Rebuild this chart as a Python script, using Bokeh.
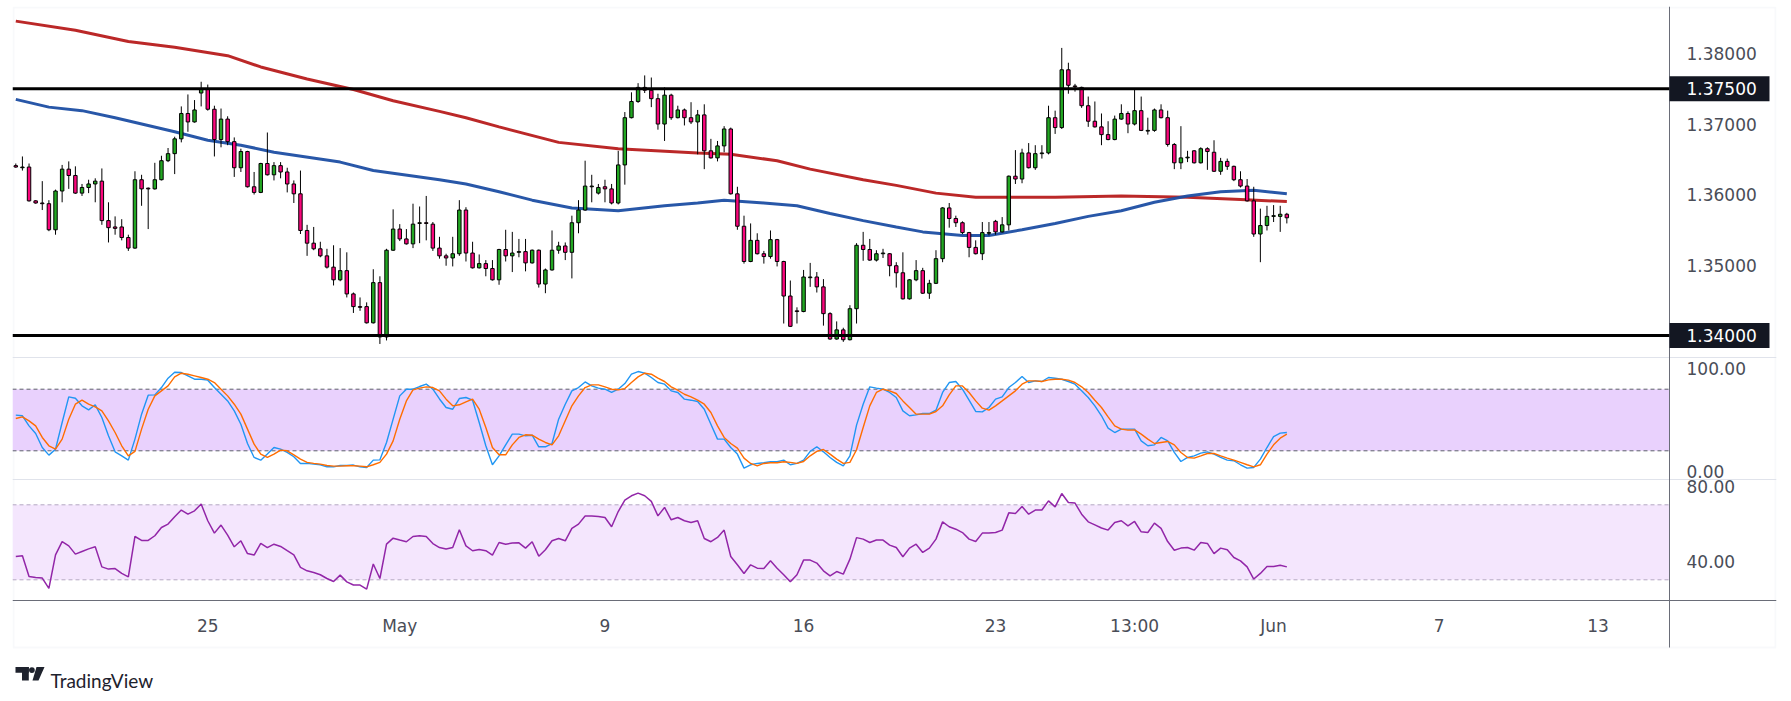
from bokeh.plotting import figure
from bokeh.models import (Range1d, LinearAxis, FixedTicker, NumeralTickFormatter,
                          Span, BoxAnnotation, ColumnDataSource)
from bokeh.embed import file_html
from bokeh.resources import INLINE
from bokeh.core.properties import value

# ---------------- data (4H candles) ----------------
opens = [
    1.3641, 1.3638, 1.3639, 1.3591, 1.3588, 1.3587, 1.3550, 1.3605, 1.3636, 1.3627,
    1.3602, 1.3610, 1.3615, 1.3619, 1.3563, 1.3554, 1.3554, 1.3539, 1.3524, 1.3621,
    1.3609, 1.3608, 1.3621, 1.3648, 1.3658, 1.3679, 1.3715, 1.3703, 1.3744, 1.3749,
    1.3721, 1.3678, 1.3707, 1.3675, 1.3638, 1.3661, 1.3611, 1.3603, 1.3644, 1.3628,
    1.3641, 1.3632, 1.3615, 1.3601, 1.3549, 1.3531, 1.3523, 1.3513, 1.3497, 1.3479,
    1.3492, 1.3459, 1.3441, 1.3441, 1.3418, 1.3475, 1.3398, 1.3521, 1.3551, 1.3537,
    1.3530, 1.3559, 1.3560, 1.3558, 1.3524, 1.3513, 1.3510, 1.3516, 1.3578, 1.3517,
    1.3496, 1.3502, 1.3495, 1.3479, 1.3522, 1.3513, 1.3518, 1.3519, 1.3503, 1.3521,
    1.3473, 1.3493, 1.3521, 1.3527, 1.3518, 1.3560, 1.3578, 1.3611, 1.3602, 1.3611,
    1.3608, 1.3588, 1.3642, 1.3709, 1.3732, 1.3752, 1.3748, 1.3736, 1.3700, 1.3741,
    1.3709, 1.3720, 1.3709, 1.3703, 1.3713, 1.3662, 1.3652, 1.3669, 1.3693, 1.3601,
    1.3555, 1.3505, 1.3535, 1.3516, 1.3512, 1.3536, 1.3505, 1.3456, 1.3435, 1.3434,
    1.3482, 1.3483, 1.3469, 1.3431, 1.3395, 1.3408, 1.3394, 1.3438, 1.3528, 1.3522,
    1.3507, 1.3516, 1.3516, 1.3499, 1.3489, 1.3452, 1.3479, 1.3492, 1.3460, 1.3474,
    1.3509, 1.3581, 1.3566, 1.3560, 1.3546, 1.3525, 1.3516, 1.3545, 1.3562, 1.3547,
    1.3557, 1.3626, 1.3622, 1.3659, 1.3638, 1.3658, 1.3659, 1.3709, 1.3695, 1.3777,
    1.3754, 1.3752, 1.3726, 1.3704, 1.3696, 1.3685, 1.3678, 1.3707, 1.3715, 1.3700,
    1.3719, 1.3690, 1.3691, 1.3720, 1.3709, 1.3671, 1.3645, 1.3652, 1.3662, 1.3645,
    1.3665, 1.3660, 1.3633, 1.3647, 1.3640, 1.3621, 1.3612, 1.3591, 1.3544, 1.3556,
    1.3569, 1.3569, 1.3572,
]
highs = [
    1.3644, 1.3654, 1.3644, 1.3592, 1.3619, 1.3592, 1.3607, 1.3642, 1.3647, 1.3640,
    1.3615, 1.3621, 1.3623, 1.3637, 1.3589, 1.3569, 1.3565, 1.3543, 1.3633, 1.3628,
    1.3610, 1.3645, 1.3655, 1.3666, 1.3682, 1.3725, 1.3742, 1.3734, 1.3760, 1.3756,
    1.3726, 1.3722, 1.3711, 1.3681, 1.3665, 1.3662, 1.3632, 1.3645, 1.3688, 1.3646,
    1.3646, 1.3638, 1.3620, 1.3634, 1.3557, 1.3554, 1.3533, 1.3523, 1.3528, 1.3524,
    1.3518, 1.3461, 1.3454, 1.3447, 1.3494, 1.3484, 1.3523, 1.3579, 1.3558, 1.3551,
    1.3587, 1.3583, 1.3598, 1.3561, 1.3540, 1.3516, 1.3540, 1.3592, 1.3582, 1.3533,
    1.3515, 1.3507, 1.3507, 1.3523, 1.3550, 1.3547, 1.3537, 1.3537, 1.3522, 1.3522,
    1.3495, 1.3549, 1.3533, 1.3532, 1.3570, 1.3592, 1.3648, 1.3628, 1.3615, 1.3621,
    1.3615, 1.3662, 1.3717, 1.3745, 1.3758, 1.3769, 1.3766, 1.3743, 1.3752, 1.3743,
    1.3726, 1.3722, 1.3731, 1.3720, 1.3728, 1.3679, 1.3676, 1.3697, 1.3695, 1.3611,
    1.3570, 1.3559, 1.3545, 1.3520, 1.3549, 1.3537, 1.3506, 1.3478, 1.3440, 1.3493,
    1.3503, 1.3490, 1.3480, 1.3433, 1.3420, 1.3411, 1.3443, 1.3531, 1.3547, 1.3537,
    1.3521, 1.3523, 1.3517, 1.3504, 1.3518, 1.3480, 1.3507, 1.3496, 1.3479, 1.3521,
    1.3582, 1.3588, 1.3570, 1.3562, 1.3547, 1.3535, 1.3561, 1.3561, 1.3564, 1.3568,
    1.3627, 1.3663, 1.3665, 1.3673, 1.3670, 1.3670, 1.3726, 1.3719, 1.3808, 1.3787,
    1.3757, 1.3753, 1.3739, 1.3732, 1.3715, 1.3704, 1.3712, 1.3728, 1.3718, 1.3749,
    1.3739, 1.3709, 1.3722, 1.3728, 1.3719, 1.3673, 1.3697, 1.3662, 1.3663, 1.3667,
    1.3667, 1.3677, 1.3652, 1.3651, 1.3641, 1.3633, 1.3622, 1.3611, 1.3580, 1.3584,
    1.3585, 1.3584, 1.3574,
]
lows = [
    1.3638, 1.3634, 1.3590, 1.3587, 1.3578, 1.3548, 1.3543, 1.3589, 1.3608, 1.3601,
    1.3598, 1.3602, 1.3589, 1.3557, 1.3532, 1.3543, 1.3535, 1.3520, 1.3523, 1.3584,
    1.3551, 1.3607, 1.3620, 1.3646, 1.3629, 1.3674, 1.3689, 1.3702, 1.3725, 1.3719,
    1.3654, 1.3667, 1.3670, 1.3625, 1.3632, 1.3610, 1.3600, 1.3602, 1.3627, 1.3620,
    1.3623, 1.3603, 1.3588, 1.3544, 1.3513, 1.3521, 1.3511, 1.3495, 1.3471, 1.3477,
    1.3454, 1.3432, 1.3435, 1.3417, 1.3417, 1.3388, 1.3393, 1.3520, 1.3534, 1.3529,
    1.3524, 1.3531, 1.3535, 1.3520, 1.3509, 1.3499, 1.3498, 1.3513, 1.3505, 1.3495,
    1.3495, 1.3484, 1.3478, 1.3472, 1.3505, 1.3490, 1.3511, 1.3491, 1.3502, 1.3468,
    1.3460, 1.3492, 1.3516, 1.3507, 1.3481, 1.3545, 1.3577, 1.3589, 1.3600, 1.3589,
    1.3586, 1.3586, 1.3614, 1.3708, 1.3730, 1.3744, 1.3724, 1.3692, 1.3676, 1.3706,
    1.3708, 1.3698, 1.3700, 1.3657, 1.3636, 1.3651, 1.3647, 1.3660, 1.3600, 1.3550,
    1.3502, 1.3504, 1.3515, 1.3502, 1.3509, 1.3498, 1.3417, 1.3412, 1.3417, 1.3433,
    1.3469, 1.3461, 1.3414, 1.3394, 1.3394, 1.3391, 1.3393, 1.3417, 1.3506, 1.3506,
    1.3505, 1.3510, 1.3484, 1.3468, 1.3451, 1.3451, 1.3477, 1.3459, 1.3452, 1.3473,
    1.3504, 1.3553, 1.3554, 1.3544, 1.3511, 1.3515, 1.3507, 1.3542, 1.3543, 1.3546,
    1.3549, 1.3615, 1.3616, 1.3637, 1.3635, 1.3651, 1.3657, 1.3686, 1.3693, 1.3743,
    1.3746, 1.3723, 1.3696, 1.3695, 1.3670, 1.3677, 1.3677, 1.3706, 1.3687, 1.3698,
    1.3690, 1.3685, 1.3689, 1.3708, 1.3668, 1.3636, 1.3636, 1.3646, 1.3644, 1.3644,
    1.3635, 1.3632, 1.3628, 1.3635, 1.3619, 1.3610, 1.3590, 1.3540, 1.3504, 1.3549,
    1.3561, 1.3547, 1.3559,
]
closes = [
    1.3639, 1.3639, 1.3591, 1.3588, 1.3587, 1.3550, 1.3605, 1.3636, 1.3627, 1.3602,
    1.3610, 1.3615, 1.3619, 1.3563, 1.3553, 1.3552, 1.3539, 1.3524, 1.3621, 1.3608,
    1.3608, 1.3621, 1.3648, 1.3658, 1.3679, 1.3715, 1.3703, 1.3720, 1.3749, 1.3721,
    1.3678, 1.3707, 1.3675, 1.3638, 1.3661, 1.3611, 1.3603, 1.3644, 1.3628, 1.3641,
    1.3632, 1.3615, 1.3601, 1.3549, 1.3531, 1.3523, 1.3513, 1.3497, 1.3479, 1.3492,
    1.3459, 1.3441, 1.3440, 1.3418, 1.3475, 1.3398, 1.3521, 1.3551, 1.3537, 1.3530,
    1.3558, 1.3560, 1.3559, 1.3524, 1.3513, 1.3510, 1.3516, 1.3578, 1.3517, 1.3496,
    1.3502, 1.3495, 1.3479, 1.3522, 1.3513, 1.3517, 1.3519, 1.3503, 1.3521, 1.3473,
    1.3493, 1.3521, 1.3527, 1.3518, 1.3560, 1.3578, 1.3612, 1.3612, 1.3610, 1.3608,
    1.3588, 1.3642, 1.3709, 1.3732, 1.3752, 1.3748, 1.3736, 1.3700, 1.3741, 1.3709,
    1.3720, 1.3709, 1.3703, 1.3713, 1.3662, 1.3652, 1.3669, 1.3693, 1.3601, 1.3555,
    1.3505, 1.3535, 1.3516, 1.3512, 1.3536, 1.3505, 1.3456, 1.3413, 1.3434, 1.3483,
    1.3483, 1.3469, 1.3431, 1.3395, 1.3408, 1.3394, 1.3438, 1.3528, 1.3522, 1.3507,
    1.3516, 1.3517, 1.3499, 1.3489, 1.3452, 1.3479, 1.3492, 1.3460, 1.3474, 1.3509,
    1.3581, 1.3566, 1.3560, 1.3546, 1.3525, 1.3516, 1.3546, 1.3546, 1.3547, 1.3557,
    1.3626, 1.3622, 1.3659, 1.3638, 1.3658, 1.3659, 1.3709, 1.3695, 1.3777, 1.3755,
    1.3753, 1.3726, 1.3704, 1.3696, 1.3685, 1.3678, 1.3707, 1.3715, 1.3700, 1.3719,
    1.3691, 1.3691, 1.3720, 1.3709, 1.3671, 1.3645, 1.3652, 1.3653, 1.3645, 1.3665,
    1.3661, 1.3633, 1.3647, 1.3640, 1.3621, 1.3612, 1.3591, 1.3544, 1.3556, 1.3569,
    1.3570, 1.3572, 1.3567,
]

# moving averages (candle index, value)
ma_red_idx = [0, 9, 17, 24, 32, 37, 44, 51, 57, 64, 68, 73, 82, 91, 103, 108,
              115, 120, 128, 133, 139, 145, 157, 167, 177, 185, 192]
ma_red = [1.3846, 1.3833, 1.3817, 1.3809, 1.3797, 1.3781, 1.3764, 1.3749, 1.3733,
          1.3718, 1.3709, 1.3696, 1.3674, 1.3665, 1.3659, 1.3657, 1.3648, 1.3636,
          1.3621, 1.3613, 1.3602, 1.3596, 1.3596, 1.3598, 1.3596, 1.3593, 1.3590]
ma_blue_idx = [0, 5, 10, 15, 24, 29, 34, 39, 49, 54, 64, 68, 73, 78, 84, 91, 98,
               103, 107, 113, 118, 123, 128, 133, 137, 143, 147, 152, 157, 162,
               167, 172, 177, 182, 187, 192]
ma_blue = [1.3735, 1.3724, 1.3719, 1.3709, 1.3689, 1.3677, 1.3670, 1.3660, 1.3646,
           1.3634, 1.3621, 1.3615, 1.3604, 1.3592, 1.3581, 1.3577, 1.3584, 1.3588,
           1.3592, 1.3588, 1.3584, 1.3573, 1.3563, 1.3554, 1.3547, 1.3542, 1.3542,
           1.3550, 1.3559, 1.3569, 1.3577, 1.3589, 1.3598, 1.3604, 1.3606, 1.3601]

stoch_k = [
    54.7, 54.1, 44.3, 36.9, 23.2, 15.8, 21.6, 47.6, 72.5, 71.2,
    63.8, 59.9, 64.8, 52.4, 34.6, 19.0, 15.1, 10.9, 31.4, 55.7,
    74.2, 74.5, 81.6, 90.7, 96.5, 96.2, 93.0, 89.7, 89.7, 88.8,
    81.6, 75.1, 68.6, 58.9, 45.9, 27.1, 13.5, 10.9, 16.8, 23.2,
    21.6, 18.4, 14.2, 7.7, 7.7, 7.0, 6.4, 4.4, 4.4, 5.7,
    5.7, 6.1, 4.4, 3.8, 10.9, 11.2, 28.1, 50.8, 73.5, 80.0,
    80.0, 82.6, 84.9, 80.0, 70.5, 62.2, 60.5, 70.9, 71.9, 69.3,
    47.6, 24.9, 6.4, 15.1, 25.8, 36.2, 36.2, 34.6, 35.2, 23.9,
    23.9, 27.1, 50.8, 65.4, 78.4, 81.6, 87.1, 83.2, 81.0, 80.0,
    76.8, 80.0, 85.5, 94.6, 97.2, 95.6, 91.4, 86.5, 84.9, 78.4,
    76.8, 70.3, 69.3, 68.0, 60.5, 45.9, 31.4, 31.4, 23.2, 16.8,
    3.1, 6.4, 7.7, 8.3, 9.3, 9.3, 10.9, 6.4, 7.7, 10.9,
    19.4, 23.9, 19.0, 13.5, 8.7, 5.4, 15.1, 45.0, 65.4, 82.3,
    81.0, 80.0, 76.8, 71.9, 58.9, 54.1, 55.0, 56.3, 56.3, 59.6,
    76.8, 86.5, 87.5, 80.0, 69.3, 58.3, 57.9, 62.2, 70.3, 72.5,
    81.6, 86.5, 92.3, 86.5, 88.1, 87.5, 91.4, 90.7, 89.7, 87.5,
    84.9, 78.4, 71.9, 63.8, 54.1, 42.1, 37.8, 41.1, 41.1, 41.1,
    29.7, 24.9, 25.8, 33.0, 29.7, 18.4, 9.6, 13.5, 15.1, 17.7,
    19.0, 16.8, 13.5, 10.9, 10.3, 6.4, 3.1, 3.8, 11.9, 23.2,
    33.9, 37.2, 37.8,
]
stoch_d = [
    51.5, 53.1, 49.2, 44.3, 33.0, 24.9, 21.6, 31.4, 50.8, 65.4,
    69.3, 65.4, 62.8, 58.9, 49.2, 37.8, 24.9, 15.1, 19.4, 41.1,
    60.5, 73.5, 78.4, 83.2, 92.0, 95.6, 94.6, 93.0, 91.4, 89.7,
    86.5, 80.0, 73.5, 65.4, 55.7, 41.1, 26.5, 16.8, 13.5, 16.8,
    20.7, 20.0, 16.1, 11.9, 8.7, 7.7, 7.0, 5.7, 5.1, 5.1,
    5.4, 5.4, 5.1, 4.4, 6.4, 8.7, 16.8, 29.7, 50.8, 68.6,
    79.4, 81.0, 82.3, 81.6, 78.4, 70.3, 63.8, 64.8, 67.7, 70.3,
    60.5, 42.7, 23.2, 16.1, 16.1, 25.8, 33.0, 35.6, 35.2, 31.4,
    28.1, 25.8, 34.6, 49.2, 63.8, 73.5, 81.6, 84.2, 84.2, 82.3,
    80.0, 79.4, 80.6, 86.5, 92.0, 95.6, 94.6, 90.7, 87.5, 82.3,
    79.0, 75.1, 72.5, 69.3, 65.4, 57.3, 44.3, 33.0, 27.1, 22.6,
    12.9, 7.7, 5.4, 7.7, 8.3, 8.3, 9.3, 8.7, 7.7, 9.6,
    15.1, 19.4, 21.3, 16.8, 11.9, 7.7, 8.7, 21.0, 42.7, 63.8,
    76.8, 80.0, 78.4, 75.8, 68.6, 62.2, 55.7, 55.7, 55.7, 58.3,
    63.8, 74.5, 83.2, 83.2, 76.8, 68.6, 61.5, 59.6, 63.8, 68.6,
    73.5, 78.4, 84.9, 88.1, 88.1, 87.5, 89.1, 89.7, 89.7, 88.8,
    86.5, 82.3, 76.8, 69.3, 62.2, 53.1, 44.3, 41.1, 40.1, 40.4,
    36.2, 31.4, 27.1, 28.1, 29.1, 25.8, 18.4, 13.5, 12.9, 15.1,
    17.4, 17.4, 15.1, 12.9, 10.9, 8.7, 6.4, 4.4, 6.4, 16.8,
    25.8, 32.3, 36.2,
]
rsi = [
    42.4, 42.8, 31.8, 31.2, 30.9, 25.4, 43.3, 50.4, 48.1, 43.7,
    45.1, 46.5, 47.6, 36.9, 35.7, 36.0, 33.4, 31.6, 53.1, 51.0,
    51.0, 53.5, 57.9, 59.7, 63.6, 67.2, 65.0, 66.8, 70.4, 61.5,
    54.9, 59.2, 53.8, 47.6, 50.8, 44.0, 43.2, 49.4, 47.2, 49.0,
    47.8, 45.5, 43.3, 36.6, 34.8, 33.9, 32.7, 30.7, 29.1, 32.5,
    28.9, 27.2, 27.2, 25.0, 38.4, 30.7, 49.0, 52.2, 51.2, 50.3,
    53.1, 53.5, 53.1, 49.3, 47.2, 46.4, 47.2, 56.7, 48.1, 45.5,
    46.2, 45.5, 43.2, 49.9, 49.0, 49.6, 49.7, 46.9, 50.3, 42.6,
    46.0, 50.8, 52.0, 50.8, 57.4, 59.7, 64.0, 64.0, 63.8, 63.2,
    58.3, 66.4, 72.5, 74.8, 76.2, 74.8, 71.8, 64.1, 68.6, 62.0,
    63.2, 61.5, 60.6, 61.5, 52.0, 50.3, 52.6, 56.5, 42.4, 38.0,
    33.4, 38.0, 36.2, 36.0, 40.1, 36.2, 32.7, 28.9, 32.7, 40.5,
    40.5, 38.9, 34.8, 32.1, 34.4, 33.0, 41.0, 52.5, 51.7, 49.9,
    51.2, 51.2, 48.5, 47.2, 42.3, 46.9, 49.0, 44.6, 46.9, 51.7,
    60.9, 58.3, 57.0, 55.2, 51.7, 50.4, 54.9, 54.9, 55.2, 56.5,
    65.7, 65.4, 69.1, 65.0, 67.2, 67.2, 72.1, 68.9, 76.0, 71.2,
    70.9, 65.0, 60.9, 59.3, 57.6, 56.5, 60.6, 61.5, 58.8, 61.1,
    55.6, 55.2, 60.2, 57.4, 50.4, 45.8, 46.9, 47.2, 45.8, 49.9,
    49.4, 44.0, 46.9, 46.0, 41.9, 40.1, 36.9, 30.4, 33.4, 37.1,
    37.1, 37.8, 36.9,
]

levels = [1.375, 1.34]
level_labels = ["1.37500", "1.34000"]
price_ticks = [1.35, 1.36, 1.37, 1.38]
stoch_ticks = [0, 100]
stoch_band = [20, 80]
rsi_ticks = [40, 80]
rsi_band = [30, 70]
date_tick_pos = [29, 58, 89, 119, 148, 169, 190, 215, 239]
date_tick_labels = ["25", "May", "9", "16", "23", "13:00", "Jun", "7", "13"]
brand_text = "TradingView"

# ---------------- layout geometry (pixels of the page) ----------------
F_LEFT, F_RIGHT, F_TOP, F_BOT = 12, 1776, 6, 697
CHART_BOTTOM, AXIS_Y = 647, 600
PX_SEP, PX_LABEL, PX_BOX_R = 1669, 1686, 1769
PANE_BREAKS = [357, 479]
W, H = 1786, 699


def lin(v1, p1, v2, p2):
    k = (v2 - v1) / (p2 - p1)
    return lambda px: v1 + (px - p1) * k


x_at = lin(0, 15.3, 1, 21.92)              # candle index at a pixel column
price_at = lin(1.375, 88.3, 1.34, 335.0)   # price pane scale
stoch_at = lin(80, 388.7, 20, 450.3)       # stochastic pane scale
rsi_at = lin(70, 504.3, 30, 579.3)         # RSI pane scale

SEP_X = x_at(PX_SEP)
LABEL_X = x_at(PX_LABEL)
BOX_X0, BOX_X1 = x_at(PX_SEP), x_at(PX_BOX_R)

# ---------------- styling ----------------
UP = "#22a722"
DOWN = "#fa067c"
AXIS_TXT = "#4a4d57"
AXIS_LINE = "#6a6d78"
SEP = "#e0e3eb"
BORDER = "#e9eaf1"
FONT = "DejaVu Sans"
INK = "#1e222d"

xr = Range1d(x_at(F_LEFT), x_at(F_RIGHT))
p = figure(width=W, height=H, x_range=xr,
           y_range=Range1d(price_at(F_BOT), price_at(F_TOP)),
           output_backend="svg", toolbar_location=None, tools="",
           x_axis_location=None, y_axis_location=None,
           min_border_left=F_LEFT, min_border_right=W - F_RIGHT,
           min_border_top=F_TOP, min_border_bottom=H - F_BOT,
           background_fill_color="white", border_fill_color="white",
           outline_line_color=None)
p.extra_y_ranges = {
    "stoch": Range1d(stoch_at(F_BOT), stoch_at(F_TOP)),
    "rsi": Range1d(rsi_at(F_BOT), rsi_at(F_TOP)),
}
p.xgrid.visible = False
p.ygrid.visible = False


def style_axis(ax, line=True):
    ax.axis_line_color = AXIS_LINE if line else None
    ax.major_tick_line_color = None
    ax.minor_tick_line_color = None
    ax.major_tick_out = 0
    ax.major_tick_in = 0
    ax.major_label_text_font_size = "17px"
    ax.major_label_text_color = AXIS_TXT
    ax.major_label_text_font = FONT


# chart border, pane separators and price-scale separator
p.add_layout(BoxAnnotation(left=x_at(F_LEFT + 1), right=x_at(F_RIGHT - 1),
                           top=price_at(F_TOP + 1), bottom=price_at(CHART_BOTTOM),
                           fill_alpha=0, line_color=BORDER, line_width=2,
                           level="underlay"))
for br in PANE_BREAKS:
    p.add_layout(Span(location=price_at(br), dimension="width",
                      line_color=SEP, line_width=1, level="underlay"))
p.segment(x0=[SEP_X], y0=[price_at(F_TOP)], x1=[SEP_X],
          y1=[price_at(CHART_BOTTOM)], line_color=AXIS_LINE, line_width=1)

# right-hand value scales (drawn at the separator column)
for rng_name, ticks, fmt in [("default", price_ticks, "0.00000"),
                             ("stoch", stoch_ticks, "0.00"),
                             ("rsi", rsi_ticks, "0.00")]:
    ax = LinearAxis(y_range_name=rng_name, ticker=FixedTicker(ticks=ticks),
                    formatter=NumeralTickFormatter(format=fmt),
                    fixed_location=SEP_X)
    style_axis(ax, line=False)
    ax.major_label_standoff = PX_LABEL - PX_SEP
    p.add_layout(ax, "right")

# time axis
xax = LinearAxis(ticker=FixedTicker(ticks=date_tick_pos),
                 fixed_location=price_at(AXIS_Y),
                 major_label_overrides={pos: lab for pos, lab in
                                        zip(date_tick_pos, date_tick_labels)})
style_axis(xax, line=True)
xax.major_label_standoff = 15
p.add_layout(xax, "below")

# ---------------- price pane ----------------
p.line(ma_red_idx, ma_red, line_color="#b71c1c", line_width=3, line_alpha=0.95)
p.line(ma_blue_idx, ma_blue, line_color="#1c4ea3", line_width=3, line_alpha=0.95)

idx = list(range(len(opens)))
src = ColumnDataSource(dict(
    x=idx, low=lows, high=highs,
    top=[max(o, c) for o, c in zip(opens, closes)],
    bottom=[min(o, c) for o, c in zip(opens, closes)],
    color=[UP if c >= o else DOWN for o, c in zip(opens, closes)],
))
p.segment(x0="x", y0="low", x1="x", y1="high", source=src,
          line_color="black", line_width=1)
p.vbar(x="x", width=0.52, top="top", bottom="bottom", source=src,
       fill_color="color", line_color="black", line_width=1)

p.segment(x0=[xr.start] * len(levels), y0=levels, x1=[SEP_X] * len(levels),
          y1=levels, line_color="black", line_width=3)
p.rect(x=[(BOX_X0 + BOX_X1) / 2] * len(levels), y=levels,
       width=BOX_X1 - BOX_X0, height=25, height_units="screen",
       fill_color="#131722", line_color=None)
p.text(x=[LABEL_X] * len(levels), y=levels, text=level_labels,
       text_color="white", text_font=value(FONT), text_font_size="17px",
       text_baseline="middle", text_align="left")

# ---------------- stochastic pane ----------------
p.add_layout(BoxAnnotation(bottom=stoch_band[0], top=stoch_band[1], right=SEP_X,
                           y_range_name="stoch", fill_color="#e9d1fd",
                           fill_alpha=1.0, line_color=None, level="underlay"))
p.segment(x0=[xr.start] * 2, y0=stoch_band, x1=[SEP_X] * 2, y1=stoch_band,
          y_range_name="stoch", line_color="#5d606b", line_width=1,
          line_dash="4 3")
p.line(list(range(len(stoch_k))), stoch_k, y_range_name="stoch",
       line_color="#2196f3", line_width=1.4)
p.line(list(range(len(stoch_d))), stoch_d, y_range_name="stoch",
       line_color="#ff6d00", line_width=1.4)

# ---------------- RSI pane ----------------
p.add_layout(BoxAnnotation(bottom=rsi_band[0], top=rsi_band[1], right=SEP_X,
                           y_range_name="rsi", fill_color="#f4e6fd",
                           fill_alpha=1.0, line_color=None, level="underlay"))
p.segment(x0=[xr.start] * 2, y0=rsi_band, x1=[SEP_X] * 2, y1=rsi_band,
          y_range_name="rsi", line_color="#b4a9c2", line_width=1,
          line_dash="4 3")
p.line(list(range(len(rsi))), rsi, y_range_name="rsi",
       line_color="#9226a8", line_width=1.5)

# ---------------- TradingView mark under the chart ----------------
LOGO_TOP, LOGO_BOT = 666.5, 680
p.quad(left=[x_at(15), x_at(21.5)], right=[x_at(28.3), x_at(28.3)],
       top=[price_at(LOGO_TOP), price_at(LOGO_TOP)],
       bottom=[price_at(672.3), price_at(LOGO_BOT)],
       fill_color=INK, line_color=None)
p.circle(x=[x_at(31.4)], y=[price_at(669.6)], radius=2.9, radius_units="screen",
         fill_color=INK, line_color=None)
p.patch([x_at(36), x_at(44), x_at(38), x_at(32)],
        [price_at(LOGO_TOP), price_at(LOGO_TOP), price_at(LOGO_BOT),
         price_at(LOGO_BOT)],
        fill_color=INK, line_color=None)
p.text(x=[x_at(50)], y=[price_at(680)], text=[brand_text],
       text_font=value("Lato"), text_font_size="19px", text_color=INK,
       text_baseline="alphabetic", text_align="left")

open("out.html", "w").write(file_html(p, INLINE, "chart"))
